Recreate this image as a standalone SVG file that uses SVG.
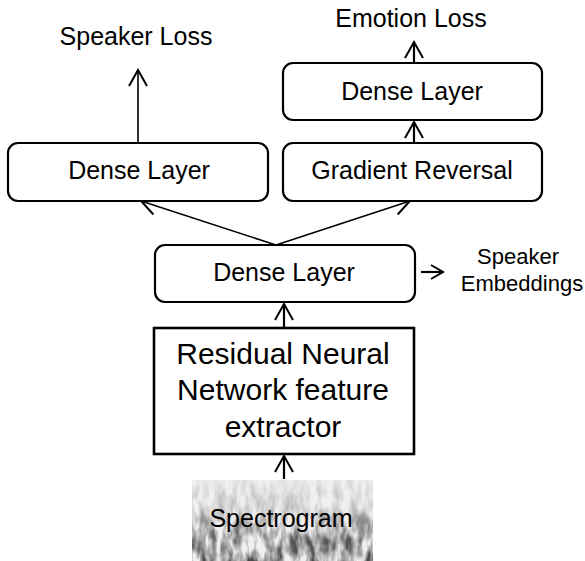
<svg xmlns="http://www.w3.org/2000/svg" width="585" height="561" viewBox="0 0 585 561">
  <style>
    .box { fill: #ffffff; stroke: #000000; stroke-width: 2.2; }
    .lbl { font-family: "Liberation Sans", Arial, sans-serif; font-size: 25px; fill: #000000; text-anchor: middle; }
    .big { font-size: 30px; }
    .side { font-size: 22px; }
    .edge { fill: none; stroke: #000000; stroke-width: 1.6; }
    .thick { stroke-width: 2.2; }
    .head { fill: none; stroke: #000000; stroke-width: 2; }
  </style>
  <defs>
    <marker id="open" markerUnits="userSpaceOnUse" markerWidth="20" markerHeight="20" refX="0" refY="0" orient="auto" overflow="visible">
      <path class="head" d="M-16,-9 L0,0 L-16,9"/>
    </marker>
    <marker id="openSmall" markerUnits="userSpaceOnUse" markerWidth="16" markerHeight="16" refX="0" refY="0" orient="auto" overflow="visible">
      <path class="head" d="M-12,-7 L0,0 L-12,7"/>
    </marker>
    <!-- streaky noise used as the spectrogram texture -->
    <filter id="specNoise" x="0" y="0" width="100%" height="100%" filterUnits="objectBoundingBox">
      <feTurbulence type="fractalNoise" baseFrequency="0.12 0.045" numOctaves="3" seed="7" result="n"/>
      <feColorMatrix in="n" type="matrix" values="0 0 0 0 0  0 0 0 0 0  0 0 0 0 0  -2.4 0 0 0 1.6" result="dark"/>
      <feComposite in="dark" in2="SourceGraphic" operator="in"/>
    </filter>
    <linearGradient id="specFade" x1="0" y1="0" x2="0" y2="1">
      <stop offset="0" stop-color="#000" stop-opacity="0.08"/>
      <stop offset="0.35" stop-color="#000" stop-opacity="0.25"/>
      <stop offset="0.7" stop-color="#000" stop-opacity="0.62"/>
      <stop offset="1" stop-color="#000" stop-opacity="0.7"/>
    </linearGradient>
  </defs>

  <!-- connectors -->
  <g id="connectors">
    <line class="edge" x1="138" y1="143" x2="138" y2="70" marker-end="url(#open)"/>
    <line class="edge thick" x1="414" y1="63" x2="414" y2="42" marker-end="url(#open)"/>
    <line class="edge thick" x1="414" y1="143" x2="414" y2="122" marker-end="url(#open)"/>
    <line class="edge" x1="276" y1="245" x2="141" y2="201" marker-end="url(#open)"/>
    <line class="edge" x1="276" y1="245" x2="410" y2="201" marker-end="url(#open)"/>
    <line class="edge thick" x1="421" y1="272" x2="443" y2="272" marker-end="url(#openSmall)"/>
    <line class="edge thick" x1="284" y1="327" x2="284" y2="304" marker-end="url(#open)"/>
    <line class="edge thick" x1="284" y1="479" x2="284" y2="456" marker-end="url(#open)"/>
  </g>

  <!-- output labels -->
  <g id="speaker-loss">
    <text class="lbl" x="136" y="45">Speaker Loss</text>
  </g>
  <g id="emotion-loss">
    <text class="lbl" x="411" y="27">Emotion Loss</text>
  </g>

  <g id="dense-emotion">
    <rect class="box" x="283" y="63" width="259" height="57" rx="10"/>
    <text class="lbl" x="412" y="100">Dense Layer</text>
  </g>

  <g id="dense-speaker">
    <rect class="box" x="8" y="143" width="260" height="58" rx="10"/>
    <text class="lbl" x="139" y="179">Dense Layer</text>
  </g>

  <g id="gradient-reversal">
    <rect class="box" x="283" y="143" width="259" height="58" rx="10"/>
    <text class="lbl" x="412" y="179">Gradient Reversal</text>
  </g>

  <g id="dense-shared">
    <rect class="box" x="155" y="245" width="260" height="57" rx="10"/>
    <text class="lbl" x="284" y="281">Dense Layer</text>
  </g>

  <g id="speaker-embeddings">
    <text class="lbl side" x="518" y="264">Speaker</text>
    <text class="lbl side" x="522" y="291">Embeddings</text>
  </g>

  <g id="resnet">
    <rect x="154" y="328" width="260" height="126" fill="#ffffff" stroke="#000000" stroke-width="2.6"/>
    <text class="lbl big" x="283" y="364">Residual Neural</text>
    <text class="lbl big" x="283" y="400">Network feature</text>
    <text class="lbl big" x="283" y="437">extractor</text>
  </g>

  <g id="spectrogram">
    <rect x="192" y="480" width="181" height="81" fill="#f0f0f0"/>
    <rect x="192" y="480" width="181" height="81" fill="url(#specFade)" filter="url(#specNoise)"/>
    <text class="lbl" x="281" y="527">Spectrogram</text>
  </g>
</svg>
